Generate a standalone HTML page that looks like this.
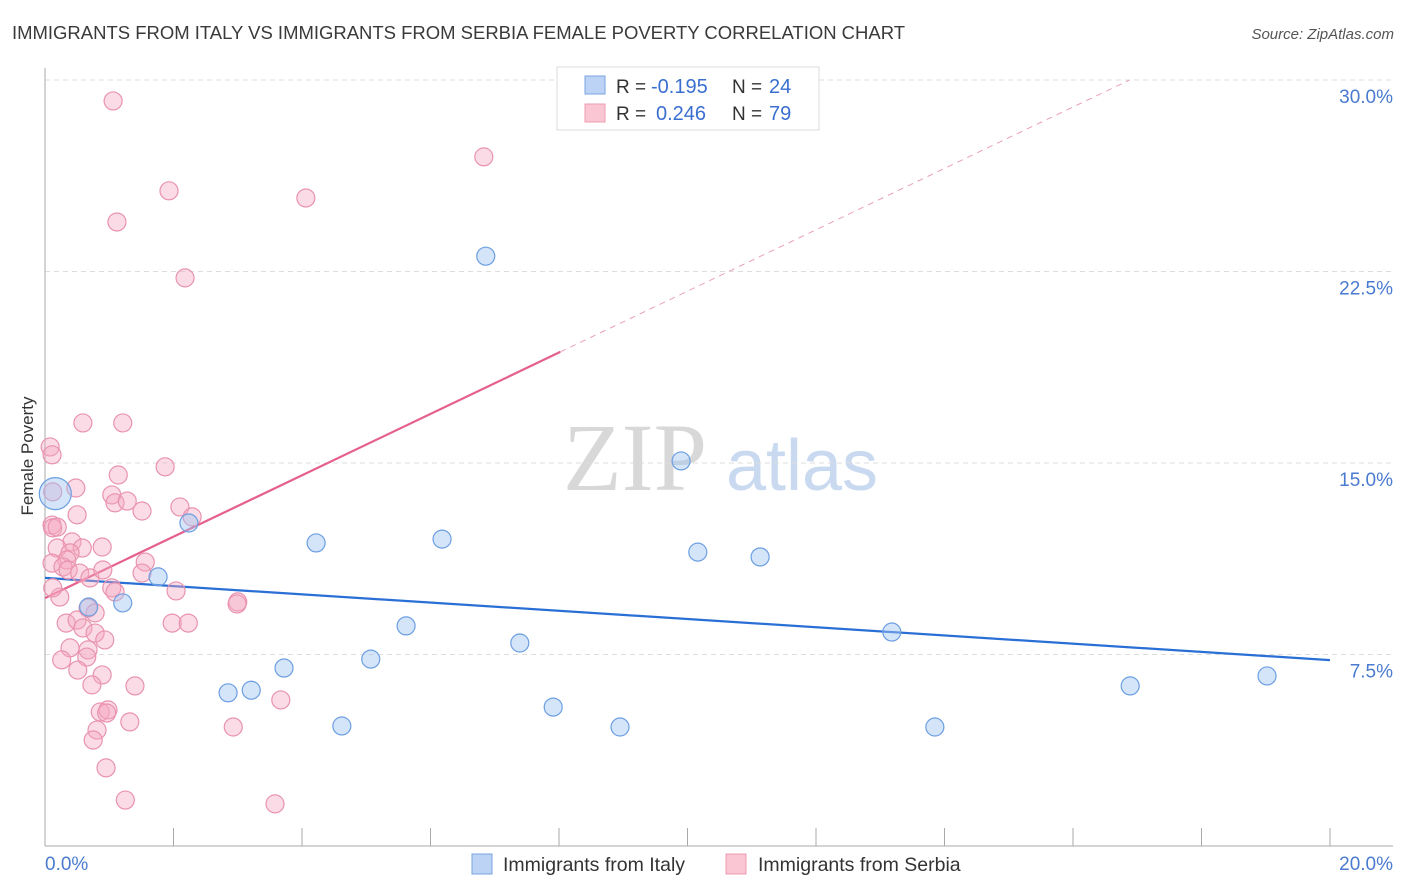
<!DOCTYPE html>
<html><head><meta charset="utf-8"><style>
body{margin:0;background:#fff;font-family:"Liberation Sans",sans-serif}
</style></head><body>
<svg id="chart" width="1406" height="892" xmlns="http://www.w3.org/2000/svg" style="display:block">
<text x="12" y="39" font-size="18.4" fill="#3a3a3a" textLength="893" lengthAdjust="spacingAndGlyphs">IMMIGRANTS FROM ITALY VS IMMIGRANTS FROM SERBIA FEMALE POVERTY CORRELATION CHART</text>
<text x="1394" y="39" font-size="15" fill="#555" font-style="italic" text-anchor="end">Source: ZipAtlas.com</text>
<g>
<text x="635" y="490" font-size="96" font-family="Liberation Serif,serif" fill="#d8d8d8" text-anchor="middle">ZIP</text>
<text x="802" y="490" font-size="72" fill="#c9d9f0" text-anchor="middle">atlas</text>
</g>
<g id="grid"></g>
<g id="axes"></g>
<g id="lines"></g>
<g id="pts"></g>
<text transform="translate(33,456) rotate(-90)" font-size="17" fill="#333" text-anchor="middle">Female Poverty</text>
<g>
<rect x="557" y="67" width="262" height="63" fill="#fff" stroke="#ddd"/>
<rect x="585" y="76" width="20" height="18" fill="#bcd3f5" stroke="#7aa5e0"/>
<rect x="585" y="104" width="20" height="18" fill="#fac6d4" stroke="#ee9cb4"/>
<text x="616" y="93" font-size="19" fill="#333">R =</text>
<text x="651" y="93" font-size="20" fill="#3a6fd0">-0.195</text>
<text x="732" y="93" font-size="19" fill="#333">N =</text>
<text x="769" y="93" font-size="20" fill="#3a6fd0">24</text>
<text x="616" y="120" font-size="19" fill="#333">R =</text>
<text x="656" y="120" font-size="20" fill="#3a6fd0">0.246</text>
<text x="732" y="120" font-size="19" fill="#333">N =</text>
<text x="769" y="120" font-size="20" fill="#3a6fd0">79</text>
</g>
<g>
<rect x="472" y="854" width="20" height="20" fill="#bcd3f5" stroke="#7aa5e0"/>
<text x="503" y="871" font-size="19.5" fill="#333">Immigrants from Italy</text>
<rect x="726" y="854" width="20" height="20" fill="#fac6d4" stroke="#ee9cb4"/>
<text x="758" y="871" font-size="19.5" fill="#333">Immigrants from Serbia</text>
</g>
</svg>
<script>
const yTicks=[7.5,15,22.5,30];
const yTickLabels=["7.5%","15.0%","22.5%","30.0%"];
const xTickLabels=["0.0%","20.0%"];
const italyX=[0.16,0.68,1.21,1.76,2.24,2.85,3.21,3.72,4.22,4.62,5.07,5.62,6.18,6.86,7.39,7.91,8.95,9.90,10.16,11.13,13.18,13.85,16.89,19.02];
const italyY=[13.8,9.36,9.52,10.54,12.65,6.0,6.1,6.97,11.87,4.70,7.32,8.62,12.02,23.1,7.95,5.44,4.66,15.08,11.51,11.32,8.38,4.66,6.27,6.66];
const serbiaX=[1.06,1.93,1.12,4.06,6.83,2.18,0.59,1.21,0.08,0.11,1.87,1.14,0.12,0.48,1.04,1.09,1.28,1.51,0.50,2.10,2.29,0.11,0.12,0.19,0.89,0.42,0.58,0.19,0.39,0.34,0.11,0.28,0.36,0.54,0.70,0.90,1.56,1.51,0.23,0.12,1.04,1.09,2.04,3.00,2.99,0.67,0.78,0.33,0.50,0.59,1.98,2.23,0.78,0.93,0.39,0.67,0.65,0.26,0.51,0.89,0.73,1.40,0.86,0.98,0.96,1.32,0.81,0.75,2.93,0.95,1.25,3.67,3.58];
const serbiaY=[29.18,25.66,24.44,25.38,26.99,22.25,16.57,16.57,15.63,15.32,14.85,14.53,13.87,14.02,13.75,13.44,13.51,13.12,12.97,13.28,12.89,12.57,12.46,12.49,11.71,11.91,11.67,11.67,11.48,11.20,11.08,10.93,10.81,10.69,10.50,10.81,11.12,10.69,9.75,10.11,10.11,9.95,9.99,9.56,9.48,9.32,9.13,8.73,8.85,8.54,8.73,8.73,8.34,8.07,7.76,7.68,7.40,7.29,6.89,6.70,6.31,6.27,5.25,5.33,5.21,4.86,4.54,4.15,4.66,3.06,1.80,5.72,1.65];
const italyTrend=[10.50,7.28];
const serbiaTrend=[9.71,1.202];
const NS="http://www.w3.org/2000/svg";
const X=v=>45+v/20*1285, Y=v=>846-v/30*766;
function mk(p,t,a){const e=document.createElementNS(NS,t);for(const k in a)e.setAttribute(k,a[k]);p.appendChild(e);return e;}
const grid=document.getElementById('grid'),axes=document.getElementById('axes'),lines=document.getElementById('lines'),pts=document.getElementById('pts');
yTicks.forEach((t,i)=>{
 const g=mk(grid,'line',{x1:45,x2:1393,y1:Y(t),y2:Y(t),stroke:'#ddd','stroke-dasharray':'5,4'});
 
 
 const l=mk(axes,'text',{x:1393,y:Y(t)+23,'font-size':19,fill:'#4a7bd0','text-anchor':'end'});
 l.textContent=yTickLabels[i];
 
 
});
const ya=mk(axes,'line',{x1:45,x2:45,y1:68,y2:846,stroke:'#aaa'});


const xa=mk(axes,'line',{x1:45,x2:1393,y1:846,y2:846,stroke:'#aaa'});


for(let i=0;i<=10;i++){const t=mk(axes,'line',{x1:X(i*2),x2:X(i*2),y1:828,y2:846,stroke:'#aaa'});
 
 }
[[0,'start',45],[20,'end',1393]].forEach((d,i)=>{const l=mk(axes,'text',{x:d[2],y:870,'font-size':19,fill:'#4a7bd0','text-anchor':d[1]});l.textContent=xTickLabels[i];
 
 });
const il=mk(lines,'line',{x1:X(0),y1:Y(italyTrend[0]),x2:X(20),y2:Y(italyTrend[1]),stroke:'#2a6fd6','stroke-width':2.2});


const sEnd=8.02, sMax=(30-serbiaTrend[0])/serbiaTrend[1];
const sl=mk(lines,'line',{x1:X(0),y1:Y(serbiaTrend[0]),x2:X(sEnd),y2:Y(serbiaTrend[0]+serbiaTrend[1]*sEnd),stroke:'#e5608c','stroke-width':2.2});


const sd=mk(lines,'line',{x1:X(sEnd),y1:Y(serbiaTrend[0]+serbiaTrend[1]*sEnd),x2:X(sMax),y2:Y(30),stroke:'#eaa0b8','stroke-width':1,'stroke-dasharray':'6,5'});


serbiaX.forEach((x,i)=>{const c=mk(pts,'circle',{cx:X(x),cy:Y(serbiaY[i]),r:9,fill:'rgba(246,168,192,0.4)',stroke:'#e993ae','stroke-width':1.2});
 
 });
italyX.forEach((x,i)=>{const c=mk(pts,'circle',{cx:X(x),cy:Y(italyY[i]),r:i==0?16:9,fill:'rgba(160,196,242,0.45)',stroke:'#6c9fe2','stroke-width':1.2});
 
 });
</script>
</body></html>
